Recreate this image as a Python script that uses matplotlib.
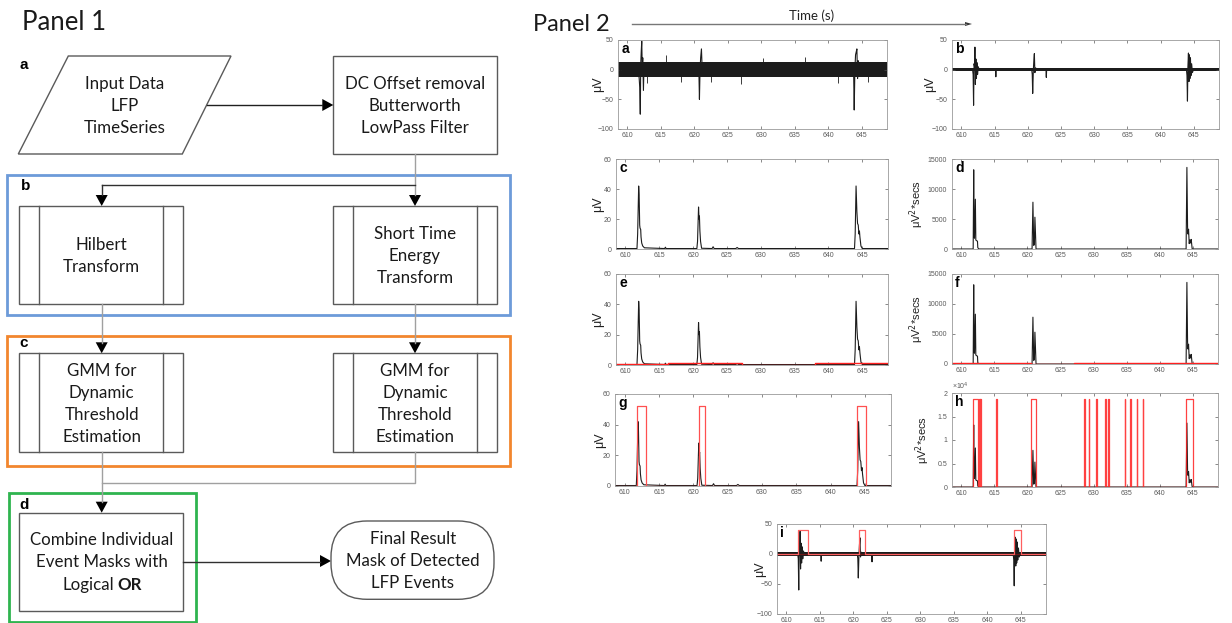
import numpy as np
import matplotlib
matplotlib.use('Agg')
import matplotlib.pyplot as plt
from matplotlib.patches import Polygon, Rectangle, FancyBboxPatch

W, H = 1232, 623
FC = 'Lato'          # flowchart font (stands in for Calibri)
AX = 'Liberation Sans'

# ---------------- data ----------------
t_lim = (608.6, 648.8)
x_ticks = [610, 615, 620, 625, 630, 635, 640, 645]

# raw LFP (panel a): noise band + spike excursions
raw_band = (-13, 13)
raw_t = [608.6, 611.75, 611.85, 611.93, 612.0, 612.07, 612.15, 612.22, 612.3, 612.4, 612.5, 612.6,
         620.6, 620.7, 620.77, 620.85, 620.95, 621.07, 621.15, 621.25,
         643.75, 643.82, 643.9, 644.0, 644.1, 644.2, 644.3, 644.4, 644.5, 644.6, 648.8]
raw_v = [0, -12, -30, -75, 10, 30, 48, 5, 20, -35, 12, 0,
         0, -10, -50, -5, 20, 35, 10, 0,
         0, -10, -68, 0, 25, 30, 35, -15, 15, 0, 0]
raw_out_t = [613.0, 615.8, 618.0, 622.5, 627.0, 630.2, 636.5, 641.5, 646.0]
raw_out_v = [-22, 25, -20, -20, -25, 20, 22, -22, -20]

# filtered LFP (panels b, i)
filt_band = (-3, 3)
filt_t = [608.6, 611.7, 611.78, 611.85, 611.92, 612.0, 612.05, 612.12, 612.2, 612.28, 612.35, 612.45, 612.55, 612.7,
          615.15, 615.2, 615.25,
          620.6, 620.68, 620.75, 620.85, 620.92, 621.0, 621.08, 621.2, 621.3,
          622.75, 622.8, 622.85,
          643.9, 643.98, 644.05, 644.12, 644.2, 644.28, 644.35, 644.42, 644.5, 644.58, 644.68, 644.8, 644.95, 648.8]
filt_v = [0, 0, -8, -60, 10, 5, 38, -25, 18, -15, 12, -8, 5, 0,
          0, -12, 0,
          0, -8, -40, 0, 15, 27, -5, 3, 0,
          0, -13, 0,
          0, -10, -53, 5, 28, -20, 25, -15, 20, -10, 10, -5, 0, 0]

# Hilbert envelope (panels c, e, g)
hil_t = [608.6, 611.7, 611.8, 611.95, 612.02, 612.1, 612.15, 612.25, 612.3, 612.4, 612.55, 612.8,
         615.8, 615.9, 616.0, 620.55, 620.65, 620.8, 620.87, 620.93, 621.0, 621.1, 621.25,
         622.8, 622.95, 623.1, 626.3, 626.5, 626.7,
         643.85, 643.95, 644.08, 644.2, 644.3, 644.4, 644.5, 644.58, 644.65, 644.8, 645.0, 648.8]
hil_v = [0.3, 0.3, 10, 42, 36, 16, 14, 13, 8, 4, 2, 0.8,
         0.3, 1.2, 0.3, 0.3, 5, 28, 20, 22, 12, 5, 0.5,
         0.3, 1.5, 0.3, 0.3, 1.0, 0.3,
         0.3, 10, 42, 25, 17, 16, 10, 12, 8, 2, 0.3, 0.3]

# short time energy (panels d, f, h)
ste_t = [608.6, 611.8, 611.88, 611.95, 612.0, 612.13, 612.2, 612.3, 612.45, 612.5, 612.7,
         620.7, 620.83, 620.95, 621.05, 621.13, 621.3,
         643.98, 644.1, 644.2, 644.25, 644.35, 644.45, 644.55, 644.65, 644.75, 644.9, 648.8]
ste_v = [0, 0, 13200, 2000, 1800, 8300, 1500, 1400, 1300, 200, 0,
         0, 7800, 600, 800, 5300, 0,
         0, 13600, 3700, 2500, 3300, 900, 1500, 1000, 1600, 0, 0]

# GMM thresholds (panels e, f)
thr_e_t = [608.6, 616.3, 627.2, 638.0, 648.8]
thr_e_v = [0.8, 1.5, 0.0, 1.2, 1.2]
thr_f_t = [608.6, 620.5, 627.0, 648.8]
thr_f_v = [150, 30, 150, 150]

# event masks: (on, off) times and mask height
g_on, g_off, g_level = [611.76, 620.8, 643.9], [613.07, 621.7, 645.2], 52
h_on = [611.7, 612.7, 612.9, 615.3, 620.6, 628.6, 629.3, 630.4, 631.75, 632.2, 634.7, 635.5, 636.5, 637.4, 644.0]
h_off = [612.6, 612.78, 612.98, 615.38, 621.3, 628.68, 629.38, 630.48, 631.83, 632.28, 634.78, 635.58, 636.58, 637.48, 645.0]
h_level = 18700
i_on, i_off, i_level = [611.73, 620.8, 643.95], [613.17, 621.7, 645.1], 40.5

# ---------------- figure ----------------
fig = plt.figure(figsize=(W / 100, H / 100), dpi=100)
ov = fig.add_axes([0, 0, 1, 1])
ov.set_xlim(0, W)
ov.set_ylim(H, 0)
ov.axis('off')

EC = '#5a5a5a'
GRAY = '#a0a0a0'
FS = 12.2


def box(x0, y0, x1, y1, ec=EC, lw=1.0):
    ov.add_patch(Rectangle((x0, y0), x1 - x0, y1 - y0, fill=False, ec=ec, lw=lw))


def subproc(x0, y0, x1, y1):
    box(x0, y0, x1, y1)
    ov.plot([x0 + 20, x0 + 20], [y0, y1], color=EC, lw=1.0)
    ov.plot([x1 - 20, x1 - 20], [y0, y1], color=EC, lw=1.0)


def arrow_down(x, y):
    ov.add_patch(Polygon([(x - 6, y - 11), (x + 6, y - 11), (x, y)], closed=True, fc='black', ec='none'))


def arrow_right(x, y):
    ov.add_patch(Polygon([(x - 11, y - 6), (x - 11, y + 6), (x, y)], closed=True, fc='black', ec='none'))


def lines(xc, yc, text_lines, dy=22):
    n = len(text_lines)
    for k, s in enumerate(text_lines):
        yy = yc + (k - (n - 1) / 2) * dy + 6.3
        ov.text(xc, yy, s, ha='center', va='baseline', fontsize=FS, family=FC, color='#1a1a1a')


# Panel 1 ------------------------------------------------
ov.text(22, 29.5, 'Panel 1', fontsize=18.5, family=FC, va='baseline', color='#1a1a1a')
ov.text(533, 31, 'Panel 2', fontsize=17, family=FC, va='baseline', color='#1a1a1a')

for s, (x, y) in {'a': (19, 69), 'b': (21, 190), 'c': (19, 347), 'd': (19, 509)}.items():
    ov.text(x, y, s, fontsize=11, fontweight='bold', family=AX, va='baseline')

ov.add_patch(Polygon([(68.3, 56), (231, 56), (182.3, 154), (18.3, 154)], closed=True,
                     fill=False, ec=EC, lw=1.0))
lines(125, 105, ['Input Data', 'LFP', 'TimeSeries'])
box(333.3, 56, 497.3, 154)
lines(415, 105, ['DC Offset removal', 'Butterworth', 'LowPass Filter'])
ov.plot([206.7, 322], [105, 105], color='#202020', lw=1.0)
arrow_right(333.3, 105)

ov.add_patch(Rectangle((6.7, 174.7), 503.3, 140.3, fill=False, ec='#6d9bd9', lw=2.0))
ov.plot([415, 415], [154, 195], color=GRAY, lw=1.0)
ov.plot([101.7, 415], [185, 185], color='#303030', lw=1.0)
ov.plot([101.7, 101.7], [185, 195], color='#303030', lw=1.0)
arrow_down(101.7, 206)
arrow_down(415, 206)
subproc(19.3, 206, 183.3, 304)
lines(101.7, 255, ['Hilbert', 'Transform'])
subproc(333.3, 206, 497.3, 304)
lines(415, 255, ['Short Time', 'Energy', 'Transform'])

ov.add_patch(Rectangle((6.7, 336), 503.3, 129.7, fill=False, ec='#f2862e', lw=2.0))
ov.plot([101.7, 101.7], [304, 343], color=GRAY, lw=1.0)
ov.plot([415, 415], [304, 343], color=GRAY, lw=1.0)
arrow_down(101.7, 353.3)
arrow_down(415, 353.3)
subproc(19.3, 353.3, 183.3, 452)
lines(101.7, 403, ['GMM for', 'Dynamic', 'Threshold', 'Estimation'])
subproc(333.3, 353.3, 497.3, 452)
lines(415, 403, ['GMM for', 'Dynamic', 'Threshold', 'Estimation'])

ov.add_patch(Rectangle((9, 493.3), 187, 128.4, fill=False, ec='#2fb44f', lw=2.0))
ov.plot([101.7, 101.7], [452, 502], color=GRAY, lw=1.0)
ov.plot([415, 415, 101.7], [452, 483.3, 483.3], color=GRAY, lw=1.0)
arrow_down(101.7, 512.7)
box(19.3, 512.7, 183.3, 610.7)
lines(101.5, 550, ['Combine Individual', 'Event Masks with'])
ov.text(114, 583.3 + 6.3, 'Logical', ha='right', va='baseline', fontsize=FS, family=FC, color='#1a1a1a')
ov.text(117.5, 583.3 + 6.3, 'OR', ha='left', va='baseline', fontsize=FS, family=FC,
        fontweight='bold', color='#1a1a1a')
ov.plot([183.3, 320], [561.5, 561.5], color='#303030', lw=1.0)
arrow_right(331, 561)
ov.add_patch(FancyBboxPatch((331, 521), 163, 78.3, boxstyle='round,pad=0,rounding_size=36',
                            fill=False, ec=EC, lw=1.0))
lines(412.7, 560, ['Final Result', 'Mask of Detected', 'LFP Events'])

# time arrow
ov.text(812, 20, 'Time (s)', ha='center', va='baseline', fontsize=9.5, family=FC, color='#222222')
ov.plot([632, 966], [24, 24], color='#777777', lw=1.0)
ov.add_patch(Polygon([(965, 22), (965, 26), (972, 24)], closed=True, fc='#333333', ec='none'))

# Panel 2 ------------------------------------------------
plt.rcParams['font.family'] = AX


def panel(px, letter, ylab, lab_px, lab_fs=9):
    x0, y0, x1, y1 = px
    ax = fig.add_axes([x0 / W, 1 - y1 / H, (x1 - x0) / W, (y1 - y0) / H])
    ax.set_xlim(*t_lim)
    ax.set_xticks(x_ticks)
    ax.tick_params(direction='in', length=2, width=0.5, top=True, right=True,
                   labelsize=5, colors='#5a5a5a', pad=2)
    ax.tick_params(axis='y', pad=3.5)
    for sp in ax.spines.values():
        sp.set_color('#9a9a9a')
        sp.set_linewidth(0.6)
    ax.set_ylabel(ylab, fontsize=lab_fs, color='#202020')
    ax.yaxis.set_label_coords(-lab_px / (x1 - x0), 0.5)
    ax.text(0.012, 0.9, letter, transform=ax.transAxes, fontsize=10, fontweight='bold',
            va='center', ha='left')
    return ax


def mask_line(on, off, level):
    mt, mv = [t_lim[0]], [0]
    for a, b in zip(on, off):
        mt += [a, a, b, b]
        mv += [0, level, level, 0]
    mt.append(t_lim[1])
    mv.append(0)
    return mt, mv


K = '#1c1c1c'
uv2 = 'μV$^2$*secs'

ax = panel((618, 40, 887, 129), 'a', 'μV', 14)
ax.fill_between(t_lim, *raw_band, color=K, lw=0)
ax.vlines(raw_out_t, 0, raw_out_v, color=K, lw=0.6)
ax.plot(raw_t, raw_v, color=K, lw=0.8)
ax.set_ylim(-100, 50)
ax.set_yticks([-100, -50, 0, 50])

ax = panel((952, 40, 1219, 129), 'b', 'μV', 16)
ax.fill_between(t_lim, *filt_band, color=K, lw=0)
ax.plot(filt_t, filt_v, color=K, lw=0.8)
ax.set_ylim(-100, 50)
ax.set_yticks([-100, -50, 0, 50])

ax = panel((616, 159, 888, 249), 'c', 'μV', 12)
ax.plot(hil_t, hil_v, color=K, lw=0.8)
ax.set_ylim(0, 60)
ax.set_yticks([0, 20, 40, 60])

ax = panel((952, 159, 1218, 249), 'd', uv2, 26, 8)
ax.plot(ste_t, ste_v, color=K, lw=0.8)
ax.set_ylim(0, 15000)
ax.set_yticks([0, 5000, 10000, 15000])

ax = panel((616, 274, 888, 365), 'e', 'μV', 12)
ax.plot(hil_t, hil_v, color=K, lw=0.8)
ax.step(thr_e_t, thr_e_v, where='post', color='#ff2020', lw=1.0)
ax.set_ylim(0, 60)
ax.set_yticks([0, 20, 40, 60])

ax = panel((952, 274, 1218, 364), 'f', uv2, 26, 8)
ax.plot(ste_t, ste_v, color=K, lw=0.8)
ax.step(thr_f_t, thr_f_v, where='post', color='#ff2020', lw=1.0)
ax.set_ylim(0, 15000)
ax.set_yticks([0, 5000, 10000, 15000])

ax = panel((615, 394, 891, 486), 'g', 'μV', 9)
ax.plot(hil_t, hil_v, color=K, lw=0.8)
ax.plot(*mask_line(g_on, g_off, g_level), color='#ff5050', lw=0.9)
ax.set_ylim(0, 60)
ax.set_yticks([0, 20, 40, 60])

ax = panel((952, 393, 1218, 487), 'h', uv2, 20, 8)
ax.plot(ste_t, ste_v, color=K, lw=0.8)
ax.plot(*mask_line(h_on, h_off, h_level), color='#ff2020', lw=0.9, alpha=0.85)
ax.set_ylim(0, 20000)
ax.set_yticks([0, 5000, 10000, 15000, 20000])
ax.set_yticklabels(['0', '0.5', '1', '1.5', '2'])
ax.text(0.0, 1.01, '×10$^4$', transform=ax.transAxes, fontsize=5, color='#5a5a5a', va='bottom')

ax = panel((777, 524, 1046, 614), 'i', 'μV', 11)
ax.fill_between(t_lim, *filt_band, color=K, lw=0)
ax.plot(filt_t, filt_v, color=K, lw=0.8)
ax.plot(t_lim, [0, 0], color='#a01515', lw=0.9, alpha=0.6)
ax.plot(*mask_line(i_on, i_off, i_level), color='#ff6060', lw=0.9)
ax.set_ylim(-100, 50)
ax.set_yticks([-100, -50, 0, 50])

fig.savefig('out.png', dpi=100)
